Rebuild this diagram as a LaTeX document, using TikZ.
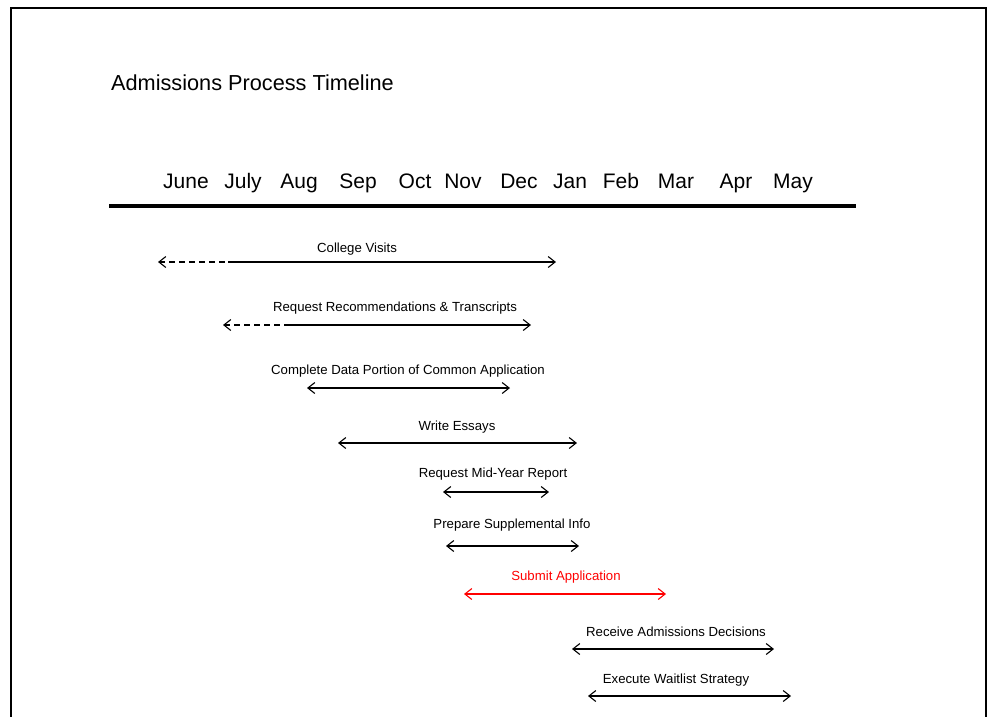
\documentclass[tikz,border=0pt]{standalone}
\usepackage{fontspec}
\setmainfont{Liberation Sans}
\usetikzlibrary{arrows.meta}
\tikzset{
  lbl/.style={inner sep=0pt, font=\fontsize{13.2}{15}\selectfont},
  mon/.style={inner sep=0pt, font=\fontsize{21}{24}\selectfont},
  span/.style={line width=1.1pt, {Straight Barb[length=7pt,width=11pt]}-{Straight Barb[length=7pt,width=11pt]}},
  tailarrow/.style={line width=1.1pt, -{Straight Barb[length=7pt,width=11pt]}},
  dashpart/.style={line width=1.1pt, dash pattern=on 6pt off 4pt, {Straight Barb[length=7pt,width=11pt]}-},
}
\begin{document}
\begin{tikzpicture}[x=1pt,y=-1pt]
\useasboundingbox (0,0) rectangle (990,716);
\fill[white] (0,0) rectangle (990,716);
% frame
\draw[line width=2.5pt] (11,720) -- (11,8) -- (986,8) -- (986,720);
% title
\node[anchor=base west, inner sep=0pt, font=\fontsize{21.7}{26}\selectfont] (title) at (111,90) {Admissions Process Timeline};
% months
\foreach \n/\x in {June/186, July/243, Aug/299, Sep/358, Oct/415, Nov/463, Dec/519, Jan/570, Feb/621, Mar/676, Apr/736, May/793}{
  \node[mon, anchor=base] (m\n) at (\x,188) {\n};
}
\coordinate (axL) at (109,206);
\coordinate (axR) at (856,206);
\draw[line width=4pt] (axL) -- (axR);

% College Visits
\node[lbl] (cv) at (357,249) {College Visits};
\coordinate (cvA) at (158,262); \coordinate (cvB) at (228,262); \coordinate (cvC) at (556,262);
\draw[dashpart] (cvA) -- (cvB);
\draw[tailarrow] (cvB) -- (cvC);

% Request Recommendations
\node[lbl] (rr) at (395,308) {Request Recommendations \& Transcripts};
\coordinate (rrA) at (223,325); \coordinate (rrB) at (290,325); \coordinate (rrC) at (531,325);
\draw[dashpart] (rrA) -- (rrB);
\draw[tailarrow] (rrB) -- (rrC);

% Complete Data
\node[lbl] (cd) at (408,371) {Complete Data Portion of Common Application};
\coordinate (cdA) at (307,388); \coordinate (cdB) at (510,388);
\draw[span] (cdA) -- (cdB);

% Write Essays
\node[lbl] (we) at (457,427) {Write Essays};
\coordinate (weA) at (338,443); \coordinate (weB) at (577,443);
\draw[span] (weA) -- (weB);

% Mid-Year
\node[lbl] (my) at (493,474) {Request Mid-Year Report};
\coordinate (myA) at (443,492); \coordinate (myB) at (549,492);
\draw[span] (myA) -- (myB);

% Prepare Supplemental
\node[lbl] (ps) at (512,525) {Prepare Supplemental Info};
\coordinate (psA) at (446,546); \coordinate (psB) at (579,546);
\draw[span] (psA) -- (psB);

% Submit
\node[lbl, text=red] (sa) at (566,577) {Submit Application};
\coordinate (saA) at (464,594); \coordinate (saB) at (666,594);
\draw[span, red] (saA) -- (saB);

% Receive
\node[lbl] (rd) at (676,632) {Receive Admissions Decisions};
\coordinate (rdA) at (572,649); \coordinate (rdB) at (774,649);
\draw[span] (rdA) -- (rdB);

% Waitlist
\node[lbl] (ws) at (676,680) {Execute Waitlist Strategy};
\coordinate (wsA) at (588,696); \coordinate (wsB) at (791,696);
\draw[span] (wsA) -- (wsB);
\end{tikzpicture}
\end{document}
